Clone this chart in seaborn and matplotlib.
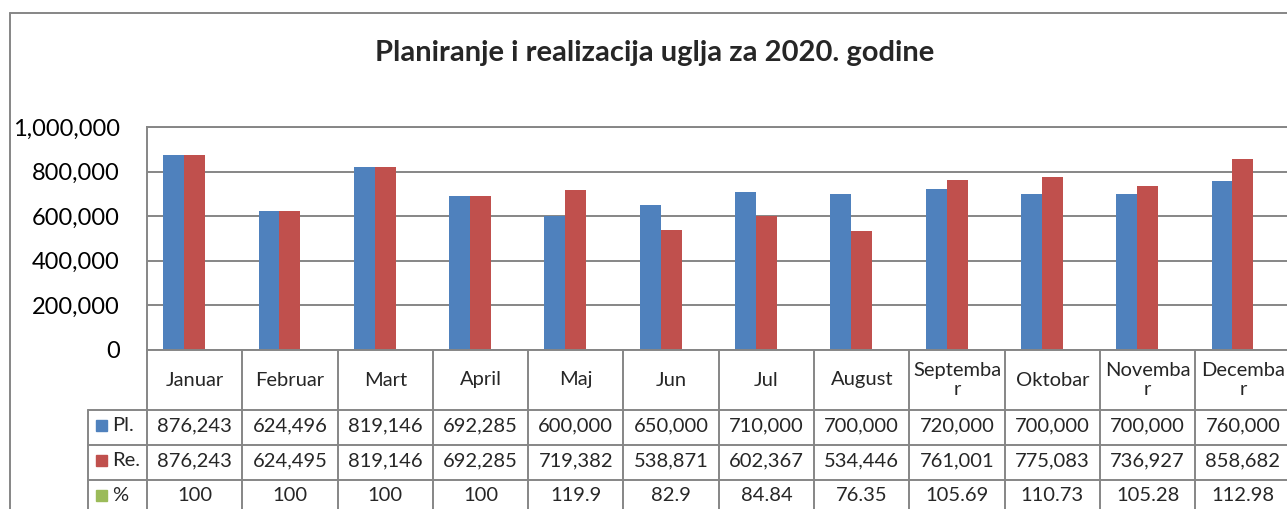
import matplotlib.pyplot as plt
import matplotlib.transforms as mtransforms
from matplotlib.lines import Line2D
from matplotlib.patches import Rectangle
from matplotlib.ticker import FuncFormatter
import pandas as pd
import seaborn as sns

# data
months = ["Januar", "Februar", "Mart", "April", "Maj", "Jun", "Jul", "August",
          "Septembar", "Oktobar", "Novembar", "Decembar"]
month_labels = ["Januar", "Februar", "Mart", "April", "Maj", "Jun", "Jul", "August",
                "Septemba\nr", "Oktobar", "Novemba\nr", "Decemba\nr"]
plan = [876243, 624496, 819146, 692285, 600000, 650000, 710000, 700000,
        720000, 700000, 700000, 760000]
real = [876243, 624495, 819146, 692285, 719382, 538871, 602367, 534446,
        761001, 775083, 736927, 858682]
pct = [100, 100, 100, 100, 119.9, 82.9, 84.84, 76.35, 105.69, 110.73, 105.28, 112.98]
pct_labels = ["100", "100", "100", "100", "119.9", "82.9", "84.84", "76.35",
              "105.69", "110.73", "105.28", "112.98"]
series = ["Pl.", "Re.", "%"]
yticks = [0, 200000, 400000, 600000, 800000, 1000000]

palette = {"Pl.": "#4F81BD", "Re.": "#C0504D", "%": "#9BBB59"}
grey = "#868686"

df = pd.DataFrame({
    "month": months * 3,
    "series": ["Pl."] * 12 + ["Re."] * 12 + ["%"] * 12,
    "value": plan + real + pct,
})

sns.set_style("white")
plt.rcParams["font.family"] = ["Lato", "DejaVu Sans"]

W, H = 1287, 509
fig = plt.figure(figsize=(W / 100, H / 100), dpi=100)


def fx(px):
    return px / W


def fy(py):
    return 1 - py / H


# plot area in pixels
left, top, bottom, colw = 147, 127, 350, 95.3
ax = fig.add_axes([fx(left), fy(bottom), fx(12 * colw), (bottom - top) / H])

sns.barplot(data=df, x="month", y="value", hue="series", order=months,
            hue_order=series, palette=palette, width=0.66, saturation=1,
            linewidth=0, legend=False, ax=ax)

ax.set_xlim(-0.5, 11.5)
ax.set_ylim(0, 1000000)
ax.set_yticks(yticks)
ax.yaxis.set_major_formatter(FuncFormatter(lambda v, p: f"{int(v):,}"))
ax.tick_params(axis="y", length=0, pad=19.5, labelsize=17, labelcolor="black")
ax.set_xticks([])
ax.set_xlabel("")
ax.set_ylabel("")
ax.grid(axis="y", color=grey, linewidth=1.4)
ax.set_axisbelow(True)
for s in ax.spines.values():
    s.set_color(grey)
    s.set_linewidth(1.4)

# title
fig.text(fx(655), fy(53), "Planiranje i realizacija uglja za 2020. godine",
         ha="center", va="center", fontsize=21, fontweight="bold")

# outer chart frame
fig.add_artist(Line2D([fx(10), fx(10)], [fy(13), fy(H + 5)], color=grey, lw=1.4))
fig.add_artist(Line2D([fx(10), fx(W + 5)], [fy(13), fy(13)], color=grey, lw=1.4))

# data table below the axis
tr = mtransforms.blended_transform_factory(ax.transData, fig.transFigure)
row_y = [410, 445, 480, 515]
for i in range(13):
    fig.add_artist(Line2D([i - 0.5, i - 0.5], [fy(bottom), fy(H + 5)], transform=tr,
                          color=grey, lw=1.4))
for ry in row_y[:-1]:
    fig.add_artist(Line2D([fx(88), fx(W + 5)], [fy(ry), fy(ry)], color=grey, lw=1.4))
fig.add_artist(Line2D([fx(88), fx(88)], [fy(410), fy(H + 5)], color=grey, lw=1.4))

for i, lab in enumerate(month_labels):
    fig.text(i, fy(380), lab, transform=tr, ha="center", va="center",
             fontsize=14.5, linespacing=1.2)

rows = [[f"{v:,}" for v in plan], [f"{v:,}" for v in real], pct_labels]
for r, (name, vals) in enumerate(zip(series, rows)):
    cy = (row_y[r] + row_y[r + 1]) / 2 - 2
    fig.add_artist(Rectangle((fx(96), fy(cy + 5)), fx(11), 11 / H,
                             color=palette[name], transform=fig.transFigure))
    fig.text(fx(112), fy(cy), name, ha="left", va="center", fontsize=14.5)
    for i, v in enumerate(vals):
        fig.text(i, fy(cy), v, transform=tr, ha="center", va="center", fontsize=14.5)

fig.savefig("out.png", dpi=100)
